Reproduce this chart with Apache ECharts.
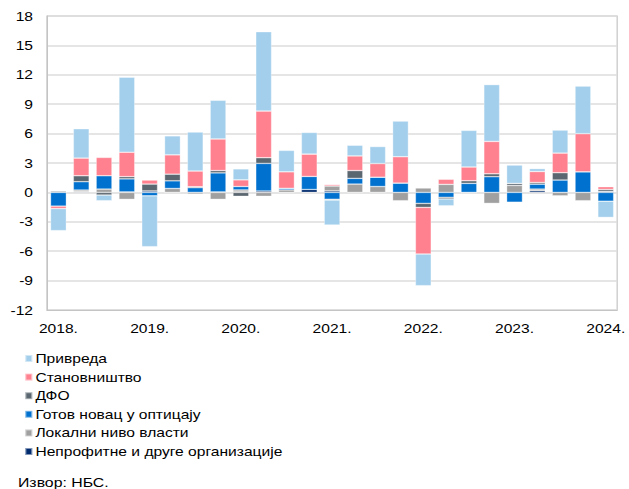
<!DOCTYPE html>
<html>
<head>
<meta charset="utf-8">
<script src="https://cdn.jsdelivr.net/npm/echarts@6/dist/echarts.min.js"></script>
<style>
html,body{margin:0;padding:0;background:#fff;overflow:hidden}
#wrap{width:629px;height:489px;overflow:hidden}
#c{width:524px;height:489px;transform:scaleX(1.2);transform-origin:0 0}
</style>
</head>
<body>
<div id="wrap"><div id="c"></div></div>
<script>
const categories = [
  '2018Q1','2018Q2','2018Q3','2018Q4',
  '2019Q1','2019Q2','2019Q3','2019Q4',
  '2020Q1','2020Q2','2020Q3','2020Q4',
  '2021Q1','2021Q2','2021Q3','2021Q4',
  '2022Q1','2022Q2','2022Q3','2022Q4',
  '2023Q1','2023Q2','2023Q3','2023Q4',
  '2024Q1'
];
const yTicks = { min: -12, max: 18, interval: 3 };

const privreda      = [-2.25, 3.0, -0.58, 7.65, -5.19, 1.94, 3.98, 3.95, 1.12, 8.1, 2.19, 2.21, -2.55, 1.09, 1.74, 3.64, -3.23, -0.7, 3.74, 5.8, 1.87, 0.3, 2.35, 4.86, -1.65];
const stanovnistvo  = [-0.25, 1.8, 1.87, 2.49, 0.41, 1.97, 1.6, 3.22, 0.68, 4.76, 1.68, 2.28, 0.15, 1.49, 1.39, 2.69, -4.76, 0.52, 1.4, 3.3, 0, 1.12, 2.0, 3.89, 0.28];
const dfo           = [0.12, 0.61, -0.27, 0.23, 0.7, 0.68, 0.1, 0.24, -0.4, 0.58, 0, 0, -0.08, 0.8, 0, 0, -0.41, -0.17, 0.27, 0.3, 0.21, 0.17, 0.75, 0, 0.2];
const gotovNovac    = [-1.4, 0.85, 1.36, 1.33, -0.35, 0.78, 0.48, 1.94, 0.35, 2.82, 0.17, 1.33, -0.7, 0.58, 0.95, 0.95, -1.12, -0.5, 0.92, 1.6, -1.0, 0.5, 1.26, 2.1, -0.9];
const lokalni       = [0, 0.17, 0.34, -0.71, 0, 0.4, -0.17, -0.71, 0.2, -0.4, 0.25, 0, 0.5, 0.85, 0.6, -0.85, 0.45, 0.82, 0, -1.12, 0.71, 0.17, -0.35, -0.85, 0];
const neprofitne    = [0, 0.07, 0, 0.05, 0.15, 0, 0, 0.05, 0.05, 0.14, 0, 0.3, 0.15, 0, 0, 0, 0, 0, 0, 0, 0, 0.17, 0, 0, 0.1];

const names = {
  privreda: 'Привреда',
  stanovnistvo: 'Становништво',
  dfo: 'ДФО',
  gotov: 'Готов новац у оптицају',
  lokalni: 'Локални ниво власти',
  neprofitne: 'Непрофитне и друге организације'
};
const colors = {
  privreda: '#A3CFEC',
  stanovnistvo: '#FF808F',
  dfo: '#5B6770',
  gotov: '#0071CE',
  lokalni: '#A0A0A0',
  neprofitne: '#002B6E'
};

const FONT = 'Liberation Sans, Arial, sans-serif';

function bar(key, data) {
  return {
    name: names[key],
    type: 'bar',
    stack: 'total',
    data: data,
    barCategoryGap: '30%',
    itemStyle: { color: colors[key], borderColor: 'rgba(255,255,255,0.5)', borderWidth: 0.6 },
    emphasis: { disabled: true }
  };
}

const chart = echarts.init(document.getElementById('c'), null, { renderer: 'svg' });
chart.setOption({
  animation: false,
  textStyle: { fontFamily: FONT },
  grid: { left: 39.2, right: 6.7, top: 16, bottom: 179, show: true, borderColor: '#C4C4C4', borderWidth: 1 },
  xAxis: {
    type: 'category',
    data: categories,
    axisLine: { onZero: false, lineStyle: { color: '#C4C4C4', width: 1 } },
    axisTick: { interval: 3, length: 5, lineStyle: { color: '#C4C4C4' } },
    axisLabel: {
      interval: 3, margin: 12, color: '#000', fontSize: 13, fontFamily: FONT,
      formatter: v => v.slice(0, 4) + '.'
    }
  },
  yAxis: {
    type: 'value',
    min: yTicks.min, max: yTicks.max, interval: yTicks.interval,
    axisLine: { show: true, lineStyle: { color: '#C4C4C4' } },
    axisTick: { show: false },
    axisLabel: { color: '#000', fontSize: 13, margin: 11.7, fontFamily: FONT },
    splitLine: { lineStyle: { color: '#DDDDDD', width: 1.5 } }
  },
  legend: {
    orient: 'vertical',
    left: 15, top: 347,
    itemWidth: 6, itemHeight: 7, itemGap: 5.6,
    icon: 'rect',
    textStyle: { color: '#000', fontSize: 13, fontFamily: FONT, padding: [0, 0, 0, -2.5] },
    data: [names.privreda, names.stanovnistvo, names.dfo, names.gotov, names.lokalni, names.neprofitne]
  },
  graphic: [{
    type: 'text', left: 15, top: 476,
    style: { text: 'Извор: НБС.', fill: '#000', fontSize: 13.2, fontFamily: FONT }
  }],
  series: [
    bar('neprofitne', neprofitne),
    bar('lokalni', lokalni),
    bar('gotov', gotovNovac),
    bar('dfo', dfo),
    bar('stanovnistvo', stanovnistvo),
    bar('privreda', privreda)
  ]
});
</script>
</body>
</html>
